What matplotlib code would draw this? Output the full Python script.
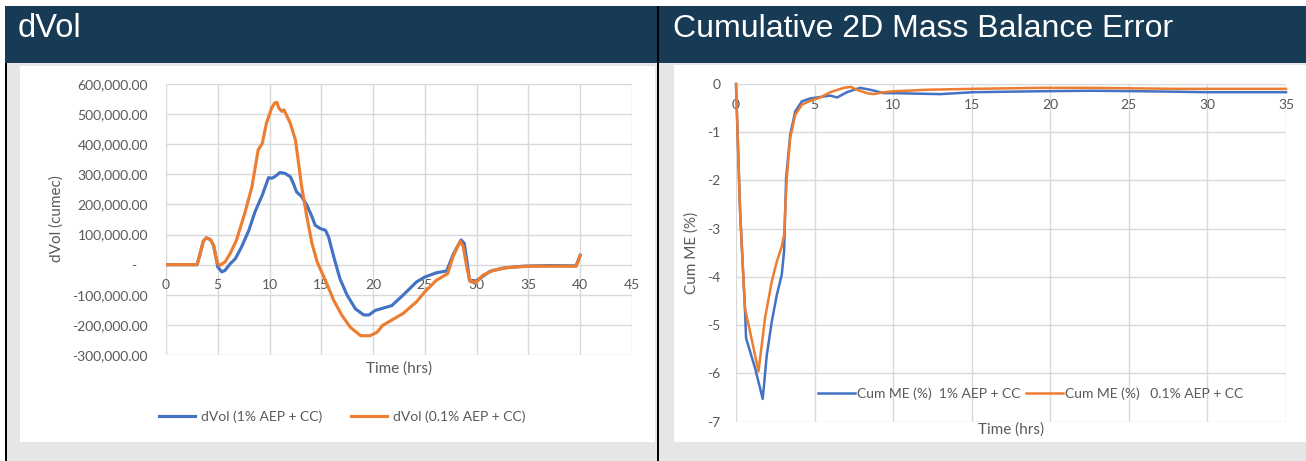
import matplotlib
matplotlib.use('Agg')
import matplotlib.pyplot as plt
from matplotlib.patches import Rectangle
from matplotlib.ticker import FuncFormatter, MultipleLocator

plt.rcParams['font.family'] = ['Lato', 'DejaVu Sans']

# ---------------- data ----------------
left_title = 'dVol'
right_title = 'Cumulative 2D Mass Balance Error'

dvol_1_t = [0, 3.0, 3.3, 3.6, 3.9, 4.3, 4.6, 4.8, 5.0, 5.4, 5.7, 6.2, 6.7, 7.3, 8.0, 8.6,
            9.3, 9.9, 10.2, 10.5, 11.0, 11.5, 12.0, 12.3, 12.6, 13.1, 13.6, 14.1, 14.4,
            14.9, 15.4, 15.7, 16.2, 16.8, 17.5, 18.3, 19.1, 19.6, 20.2, 21.0, 21.8, 22.9,
            24.2, 25.0, 26.1, 27.1, 27.7, 28.2, 28.5, 28.8, 29.1, 29.3, 29.8, 30.5, 31.3,
            32.6, 34.5, 37.1, 39.6, 40.0]
dvol_1_v = [0, 0, 37, 78, 89, 83, 64, 30, -8, -24, -19, 3, 20, 59, 114, 176,
            231, 289, 287, 292, 306, 303, 292, 270, 242, 226, 198, 159, 131,
            120, 114, 92, 26, -47, -102, -147, -167, -167, -152, -144, -136, -101,
            -57, -41, -27, -21, 31, 64, 82, 71, 3, -52, -57, -41, -22,
            -11, -5, -3, -4, 31]

dvol_01_t = [0, 3.0, 3.3, 3.6, 3.9, 4.3, 4.6, 4.8, 5.0, 5.2, 5.7, 6.2, 6.8, 7.6, 8.3, 8.9,
             9.3, 9.7, 10.2, 10.5, 10.7, 10.9, 11.2, 11.4, 11.7, 12.0, 12.5, 12.8, 13.1,
             13.6, 14.1, 14.6, 15.1, 15.6, 16.2, 17.0, 17.8, 18.8, 19.7, 20.4, 20.9, 21.7,
             22.9, 24.2, 25.0, 26.1, 27.2, 27.7, 28.4, 28.7, 29.1, 29.4, 30.0, 30.6, 31.6,
             32.9, 35.1, 39.6, 40.0]
dvol_01_v = [0, 0, 37, 78, 89, 83, 64, 26, 3, -2, 9, 37, 81, 170, 259, 381,
             403, 470, 520, 537, 539, 520, 509, 514, 492, 470, 414, 337, 259,
             159, 70, 9, -30, -69, -119, -169, -208, -236, -236, -224, -202, -186,
             -162, -123, -90, -52, -30, 25, 78, 60, -19, -57, -57, -35, -19,
             -10, -5, -5, 31]

me_1_t = [0, 0.09, 0.26, 0.47, 0.57, 0.64, 1.21, 1.70, 1.96, 2.28, 2.60, 2.91, 3.06, 3.19,
          3.45, 3.77, 4.19, 4.72, 5.57, 6.0, 6.43, 7.06, 7.9, 8.55, 9.4, 10.04, 13.0, 15.1,
          19.4, 22.6, 25.8, 30.0, 35.0]
me_1_v = [0, -0.91, -2.64, -4.02, -4.65, -5.27, -5.89, -6.53, -5.62, -4.92, -4.37, -3.96,
          -3.47, -1.95, -1.05, -0.57, -0.36, -0.30, -0.26, -0.24, -0.28, -0.17, -0.08,
          -0.12, -0.19, -0.19, -0.21, -0.17, -0.15, -0.14, -0.15, -0.17, -0.17]

me_01_t = [0, 0.09, 0.26, 0.47, 0.57, 0.89, 1.43, 1.64, 1.85, 2.28, 2.60, 2.91, 3.06, 3.23,
           3.45, 3.77, 4.19, 4.72, 5.36, 6.0, 6.85, 7.3, 7.7, 8.34, 8.77, 9.4, 10.04, 10.9,
           12.0, 15.1, 19.4, 22.6, 27.9, 35.0]
me_01_v = [0, -0.91, -2.64, -4.02, -4.65, -5.13, -5.96, -5.41, -4.85, -4.09, -3.68, -3.37,
           -3.13, -1.95, -1.12, -0.64, -0.43, -0.35, -0.28, -0.17, -0.08, -0.06, -0.12,
           -0.19, -0.21, -0.17, -0.15, -0.14, -0.12, -0.10, -0.08, -0.08, -0.10, -0.10]

left_labels = ['dVol (1% AEP + CC)', 'dVol (0.1% AEP + CC)']
right_labels = ['Cum ME (%)  1% AEP + CC', 'Cum ME (%)   0.1% AEP + CC']

# ---------------- style ----------------
W, H = 1306, 461
BLUE = '#4472C4'
ORANGE = '#ED7D31'
NAVY = '#173a55'
PANEL = '#e7e6e6'
GRID = '#d9d9d9'
TXT = '#595959'

fig = plt.figure(figsize=(W / 100, H / 100), dpi=100)
fig.patch.set_facecolor('white')


def rect(x0, y0, x1, y1, color, z):
    fig.add_artist(Rectangle((x0 / W, 1 - y1 / H), (x1 - x0) / W, (y1 - y0) / H,
                             transform=fig.transFigure, facecolor=color,
                             edgecolor='none', zorder=z))


rect(5, 6, W, 63, NAVY, -5)
rect(5, 63, W, H, PANEL, -5)
rect(20, 66, 655, 442, 'white', -4)
rect(674, 65, W, 442, 'white', -4)
rect(5, 63, 7, H, 'black', -3)
rect(657, 6, 659, H, 'black', -3)

fig.text(18 / W, 1 - 37 / H, left_title, color='white', fontsize=23.5,
         family='Liberation Sans', va='baseline', ha='left')
fig.text(673 / W, 1 - 37 / H, right_title, color='white', fontsize=23,
         family='Liberation Sans', va='baseline', ha='left')


def style_axes(ax):
    ax.patch.set_visible(False)
    for s in ax.spines.values():
        s.set_visible(False)
    ax.spines['bottom'].set_position(('data', 0))
    ax.grid(True, color=GRID, lw=1.0)
    ax.set_axisbelow(True)
    ax.tick_params(length=0, labelsize=10, labelcolor=TXT)


# ---------------- left chart ----------------
ax1 = fig.add_axes([166 / W, 1 - 355 / H, 466 / W, 271 / H])
style_axes(ax1)
ax1.plot(dvol_1_t, [v * 1000 for v in dvol_1_v], color=BLUE, lw=2.25, label=left_labels[0])
ax1.plot(dvol_01_t, [v * 1000 for v in dvol_01_v], color=ORANGE, lw=2.25, label=left_labels[1])
ax1.set_xlim(0, 45)
ax1.set_ylim(-300000, 600000)
ax1.xaxis.set_major_locator(MultipleLocator(5))
ax1.yaxis.set_major_locator(MultipleLocator(100000))
ax1.yaxis.set_major_formatter(FuncFormatter(
    lambda v, p: '-   ' if abs(v) < 1 else f'{v:,.2f}'))
ax1.xaxis.set_major_formatter(FuncFormatter(lambda v, p: f'{v:g}'))
ax1.tick_params(axis='x', pad=10)
ax1.tick_params(axis='y', pad=13)
ax1.legend(loc='center', bbox_to_anchor=(342 / W, 1 - 417 / H), bbox_transform=fig.transFigure,
           ncol=2, frameon=False, fontsize=10, handlelength=2.6, handletextpad=0.4,
           columnspacing=2.1, labelcolor=TXT)
fig.text(399 / W, 1 - 369 / H, 'Time (hrs)', ha='center', va='center', fontsize=11, color=TXT)
fig.text(57 / W, 1 - 219 / H, 'dVol (cumec)', ha='center', va='center', rotation=90,
         fontsize=11, color=TXT)

# ---------------- right chart ----------------
ax2 = fig.add_axes([736 / W, 1 - 421.5 / H, 550 / W, 337.5 / H])
style_axes(ax2)
ax2.plot(me_1_t, me_1_v, color=BLUE, lw=1.8, label=right_labels[0], clip_on=False)
ax2.plot(me_01_t, me_01_v, color=ORANGE, lw=1.8, label=right_labels[1], clip_on=False)
ax2.set_xlim(0, 35)
ax2.set_ylim(-7, 0)
ax2.xaxis.set_major_locator(MultipleLocator(5))
ax2.yaxis.set_major_locator(MultipleLocator(1))
ax2.xaxis.set_major_formatter(FuncFormatter(lambda v, p: f'{v:g}'))
ax2.yaxis.set_major_formatter(FuncFormatter(lambda v, p: '0' if abs(v) < 1e-9 else f'{v:g}'))
ax2.tick_params(axis='x', pad=11)
ax2.tick_params(axis='y', pad=11)
ax2.legend(loc='center', bbox_to_anchor=(1031 / W, 1 - 394 / H), bbox_transform=fig.transFigure,
           ncol=2, frameon=False, fontsize=10, handlelength=2.6, handletextpad=0.2,
           columnspacing=0.4, labelcolor=TXT)
fig.text(1011 / W, 1 - 430 / H, 'Time (hrs)', ha='center', va='center', fontsize=11, color=TXT)
fig.text(692 / W, 1 - 253 / H, 'Cum ME (%)', ha='center', va='center', rotation=90,
         fontsize=11, color=TXT)

fig.savefig('out.png', dpi=100, facecolor='white')
